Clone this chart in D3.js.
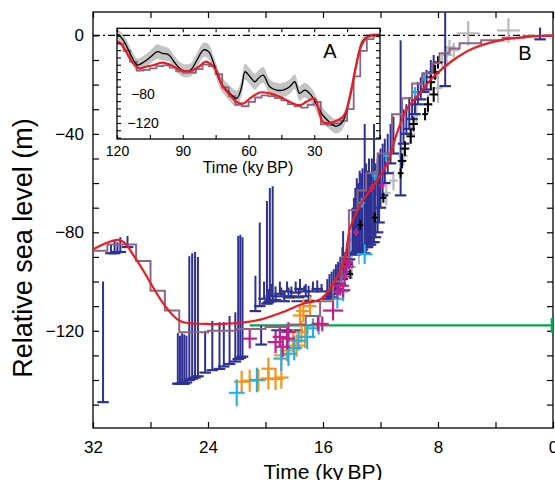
<!DOCTYPE html>
<html><head><meta charset="utf-8">
<script src="https://cdn.jsdelivr.net/npm/d3@7"></script>
<style>
body{margin:0;background:#fff}
svg{display:block}
text{font-family:"Liberation Sans",Arial,Helvetica,sans-serif;fill:#000}
</style>
</head><body>
<svg id="c" width="555" height="480"></svg>
<script>
// ---------------- DATA (main panel B) ----------------
const xTicks = [32, 28, 24, 20, 16, 12, 8, 4, 0];
const xLabels = [32, 24, 16, 8, 0];
const yLabels = [0, -40, -80, -120];

// red model curve
const redT = [32, 30.1, 29, 27, 25.95, 24.1, 22.3, 20.6, 18.8, 17.4, 16.1, 14.6, 14.1, 13.3, 12.2, 11.5, 10.85, 10.2, 9.25, 8.35, 6.96, 5.57, 3.69, 1.39, 0];
const redV = [-87, -83.2, -91, -109.8, -116, -117.2, -117, -115.8, -112.4, -109, -106.8, -92.9, -78, -67.9, -58.6, -51.7, -39.6, -30.3, -23.4, -17, -10.1, -5.3, -2, -0.4, 0];

// mauve step curve
const stairT = [32, 31, 29, 28, 27, 26, 24, 22, 20, 18.5, 17.2, 16.2, 15.3, 14.7, 14.2, 13.6, 13.0, 12.2, 11.2, 10.5, 9.8, 9.1, 8.4, 7.9, 7.2, 6.5, 5.0, 3.5, 2.0, 0];
const stairV = [-87.5, -85, -91.7, -103.7, -111.8, -120.6, -120, -119.3, -118.5, -117.5, -114, -108, -100, -90, -71, -63, -56, -48, -32, -25.5, -19.5, -15.5, -11.3, -7.3, -5.3, -3.2, -2, -1, -0.3, 0];

// navy limiting data: time, lower end (with foot), upper end
const navyT  = [31.3, 30.75, 30.5, 30.3, 30.1, 29.6,
  26.1, 25.95, 25.8, 25.65, 25.5, 25.3, 25.1, 24.9, 24.7, 24.2, 23.7, 23.2, 22.9, 22.5, 22.1, 21.9, 21.75, 21.6,
  20.3, 20.7, 20.4, 19.9, 19.7, 19.5, 20.1, 19.8, 19.6, 19.3, 19.0, 18.9, 18.7, 18.5, 18.4, 18.2, 17.9, 17.7, 17.6, 17.3, 17.2, 17.0, 16.7, 16.4, 16.1,
  15.7, 15.55, 15.4, 15.25, 15.1, 14.95, 14.8, 14.65, 14.6, 14.45, 14.3, 14.15,
  13.95, 13.85, 13.75, 13.65, 13.55, 13.45, 13.35, 13.25, 13.1, 13.0, 12.9, 12.8, 12.7, 12.6, 12.45, 12.35, 12.2, 12.1, 12.0, 11.85, 11.7, 11.5, 11.3, 11.1,
  10.6, 10.4, 10.2, 10.0, 9.8, 9.6, 9.4, 9.2, 9.0, 8.8, 8.5, 8.3, 7.5, 0.9];
const navyLo = [-149, -88.5, -88.5, -88, -88, -86,
  -141.5, -141.5, -141.5, -141.5, -141, -140, -139.5, -139, -138.5, -137, -136, -135.5, -134.5, -133.5, -132.5, -131.5, -131, -130.5,
  -125.6, -112, -110, -109, -108, -108, -107, -108.5, -106, -107.5, -105, -106, -108, -104, -106.5, -106, -104.5, -106.4, -103, -104, -106, -107.8, -104, -103, -104,
  -107, -106, -106.5, -105, -104, -103, -101, -99, -97, -96, -93, -91,
  -89, -88.5, -89, -88, -88, -87.5, -88, -87, -88.5, -86, -86, -85, -85, -84, -84, -82, -80, -76, -70, -65, -60, -56, -52, -48,
  -65, -44, -40, -38, -34, -32, -28, -26, -23, -22, -17, -15, -20.6, -1.6];
const navyHi = [-100, -85, -83.5, -84, -82, -81.5,
  -121, -122, -121, -121.5, -122, -89.7, -88.5, -88, -90, -120, -116, -116.5, -116.5, -114, -112.5, -81.5, -81, -82,
  -118, -97.6, -76, -67.3, -62, -61.3, -100, -103, -101, -102, -100, -102.4, -104, -100, -102.4, -102, -100, -103, -99, -101.7, -101, -101.7, -100, -99.5, -101,
  -99, -97, -96, -95, -93, -92, -90, -86, -79.5, -88, -84, -80,
  -70, -66, -62, -58, -60, -55, -56, -54, -36, -52, -55, -50, -56, -50, -36, -52, -50, -48, -46, -44, -42, -40, -36, -33,
  -2, -30, -28, -25, -24, -22, -19, -17, -15, -14, -10, -8, 12, 3.2];

// crosses: [time, level, time error, level error]
const navyX = [[18.5, -119.8, 1.1, 0], [17.2, -108, 1.0, 0]];
const orangeX = [[21.66, -140.7, 0.55, 4.5], [21.1, -140.3, 0.55, 4.5], [20.5, -140.0, 0.55, 4.5], [19.8, -139.4, 0.55, 4.5], [19.3, -139.6, 0.55, 4.5], [18.9, -139.0, 0.5, 4.5], [19.8, -135.4, 0.5, 4.5], [18.9, -130, 0.5, 4.5], [18.5, -128, 0.5, 4.5], [18.07, -124, 0.5, 4.5], [17.83, -126, 0.5, 4.5], [17.5, -120.5, 0.5, 4.5], [17.25, -122.5, 0.5, 4.5], [17.6, -113.8, 0.5, 4.5], [17.37, -112.0, 0.5, 4.5], [16.9, -110, 0.45, 4]];
const cyanX = [[22.0, -145.2, 0.55, 5.5], [20.6, -140, 0.55, 5], [18.9, -131.3, 0.55, 5], [18.4, -129.3, 0.55, 5], [18.0, -127, 0.55, 5], [17.7, -124, 0.5, 4], [17.1, -122.5, 0.55, 5], [16.7, -119, 0.5, 4], [16.3, -117.5, 0.4, 4], [13.1, -88.9, 0.55, 4], [14.6, -104, 0.4, 4], [15.0, -107, 0.4, 4], [13.3, -68, 0.2, 2], [12.4, -57, 0.2, 2], [11.6, -49, 0.2, 2], [9.6, -23, 0.2, 2], [9.0, -17, 0.15, 1.5]];
const magentaX = [[21.1, -123.2, 0.5, 4], [19.3, -124.6, 0.55, 4.5], [19.0, -122.5, 0.5, 4], [18.5, -123.2, 0.55, 4.5], [18.4, -120.5, 0.5, 4], [18.8, -126.5, 0.5, 4], [16.35, -117.2, 0.45, 3], [16.05, -117.2, 0.45, 3], [15.3, -111.8, 0.7, 4], [14.8, -101.7, 0.6, 4], [14.6, -103.5, 0.5, 3], [14.35, -94, 0.5, 3], [14.5, -98, 0.4, 3], [15.0, -104, 0.4, 3], [14.2, -92, 0.3, 3], [12.6, -62, 0.2, 1.5], [11.9, -61, 0.2, 1.5], [13.7, -80, 0.2, 1.5]];
const greyX = [[5.9, 0.8, 0.8, 5], [3.1, 2.0, 0.8, 5], [7.2, -4.8, 0.4, 3], [7.7, -10.9, 0.4, 3], [8.0, -21.4, 0.3, 6], [8.7, -28, 0.3, 4], [10.4, -49, 0.3, 4], [11.1, -59, 0.3, 4], [11.6, -64, 0.3, 5], [12.1, -70, 0.3, 5], [12.6, -76, 0.3, 5], [13.0, -82, 0.3, 6], [13.5, -87, 0.3, 6], [14.0, -94, 0.3, 5], [13.8, -83, 0.3, 6], [13.0, -67, 0.3, 5], [12.3, -60, 0.3, 5], [9.5, -32, 0.3, 4], [9.9, -40, 0.3, 4], [6.9, -6, 0.4, 3], [7.4, -8, 0.4, 3]];
const blackX = [[8.0, -11, 0.3, 2.5], [8.2, -15, 0.3, 3], [8.5, -19, 0.3, 3], [8.3, -24, 0.3, 3], [8.7, -28, 0.3, 3], [8.9, -32, 0.2, 2.5], [9.7, -36, 0.3, 3], [9.9, -41, 0.3, 3], [10.3, -46, 0.3, 3], [10.5, -51, 0.3, 3], [10.6, -56, 0.2, 2], [13.4, -77, 0.2, 2], [11.8, -66, 0.2, 2], [12.4, -74, 0.2, 2], [14.1, -97, 0.2, 2]];

// green limit
const greenT = [21.1, 0];
const greenV = -117.8;
const greenErr = 3;

// ---------------- DATA (inset A) ----------------
const insetXTicks = [120, 105, 90, 75, 60, 45, 30, 15, 0];
const insetXLabels = [120, 90, 60, 30];
const insetYLabels = [-80, -120];
const blkT = [120, 119.4, 116.7, 113.7, 110.7, 107.6, 104.6, 101.6, 99.3, 96.3, 94.0, 90.3, 86.5, 83.5, 80.5, 78.2, 75.9, 72.9, 69.9, 65.4, 63.1, 61.6, 59.3, 57.1, 55.6, 53.3, 50.3, 47.2, 44.2, 41.2, 38.9, 36.7, 34.4, 31.4, 28.4, 26.1, 23.1, 20.1, 17.1, 14.0, 11.0, 8.0, 5.0, 0.5, 0];
const blkV = [1, 1, -8.3, -26.6, -40.4, -35.9, -29, -22, -24.3, -26.6, -35.9, -47.3, -47.3, -33.5, -19.7, -22, -38, -63.4, -74.9, -86.3, -70.3, -49.7, -56.6, -63.4, -58.8, -54.2, -70.3, -74.9, -74.9, -70.3, -63.4, -79.4, -74.9, -81.8, -97.9, -109.4, -118.6, -124.6, -118.6, -88.7, -42.8, -8.3, -0.4, 1, 1];
const blkErr = [6, 7, 8, 9, 9, 9, 9, 10, 10, 9, 9, 9, 9, 10, 10, 10, 10, 10, 10, 11, 11, 11, 11, 11, 11, 11, 10, 10, 10, 10, 10, 10, 10, 10, 10, 10, 10, 10, 10, 9, 8, 6, 3, 2, 2];
const redAT = [120, 119.4, 116.7, 113.7, 109.9, 106.9, 103.1, 99.3, 95.5, 91.0, 86.5, 82.7, 79.7, 76.7, 74.4, 72.1, 69.1, 65.4, 62.4, 59.3, 54.8, 50.3, 45.7, 41.2, 36.7, 33.6, 29.9, 26.1, 23.1, 19.3, 16.3, 13.3, 11.0, 8.7, 5.8, 0.5, 0];
const redAV = [-8, -8.3, -17.4, -33.5, -45, -42.8, -40.4, -37.2, -40.4, -47.3, -48.7, -42.8, -35.9, -40.4, -49.7, -68, -79.4, -91, -93.2, -86.3, -78.1, -79.4, -84.1, -91, -95.6, -91, -86.3, -118.6, -120, -116.3, -109.4, -77.2, -42.8, -15.2, -2.2, 1, 1];
const stairAT = [120, 117, 114, 111, 108, 105, 102, 99, 96, 93, 90, 87, 84, 81, 78, 75, 72, 69, 66, 63, 60, 57, 54, 51, 48, 45, 42, 39, 36, 33, 30, 27, 24, 21, 18, 15, 12, 9, 6, 3, 0];
const stairAV = [-11, -21, -36, -48, -47, -45, -42, -41, -44, -49, -51, -51, -46, -40, -42, -53, -71, -83, -95, -97, -91, -85, -82, -83, -86, -89, -94, -97, -99, -95, -91, -122, -123, -121, -117, -101, -56, -21, -5, -1, 0];

// ---------------- DRAWING ----------------
const svg = d3.select("#c");
const X0 = 93, X1 = 553, Y0 = 12, Y1 = 428;
const x = d3.scaleLinear().domain([32, 0]).range([X0, X1]);
const y = d3.scaleLinear().domain([-159.5, 9.5]).range([Y1, Y0]);

const navy = "#2e3192", red = "#ed1c24", mauve = "#8d6582";

// axes (inward ticks)
const fmt = d => d < 0 ? "\u2212" + Math.abs(d) : String(d);
const gx = svg.append("g").attr("transform", `translate(0,${Y1})`)
  .call(d3.axisBottom(x).tickValues(xTicks).tickSize(-6).tickPadding(13)
    .tickFormat(d => xLabels.includes(d) ? fmt(d) : ""));
const gxt = svg.append("g").attr("transform", `translate(0,${Y0})`)
  .call(d3.axisTop(x).tickValues(xTicks).tickSize(-6).tickFormat(""));
const yTicks = d3.range(-150, 10, 10);
const gy = svg.append("g").attr("transform", `translate(${X0},0)`)
  .call(d3.axisLeft(y).tickValues(yTicks).tickSize(-6).tickPadding(9)
    .tickFormat(d => yLabels.includes(d) ? fmt(d) : ""));
const gyr = svg.append("g").attr("transform", `translate(${X1},0)`)
  .call(d3.axisRight(y).tickValues(yTicks).tickSize(-6).tickFormat(""));
[gx, gxt, gy, gyr].forEach(g => {
  g.select(".domain").remove();
  g.selectAll("line").attr("stroke", "#000").attr("stroke-width", 1.2);
  g.selectAll("text").style("font-size", "17px").attr("fill", "#000");
});
svg.append("rect").attr("x", X0).attr("y", Y0).attr("width", X1 - X0).attr("height", Y1 - Y0)
  .attr("fill", "none").attr("stroke", "#000").attr("stroke-width", 1.3);

svg.append("text").attr("x", (X0 + X1) / 2).attr("y", 479).attr("text-anchor", "middle")
  .style("font-size", "21px").text("Time (ky\u2009BP)");
svg.append("text").attr("transform", "translate(31.5,248) rotate(-90)").attr("text-anchor", "middle")
  .style("font-size", "27px").text("Relative sea level (m)");

// clip for main plot
svg.append("clipPath").attr("id", "clipM").append("rect")
  .attr("x", X0).attr("y", Y0).attr("width", X1 - X0).attr("height", Y1 - Y0);

// ---------------- inset A ----------------
const IX0 = 117, IX1 = 380, IY0 = 28.3, IY1 = 139;
const xi = d3.scaleLinear().domain([120, 0]).range([IX0, IX1]);
const yi = d3.scaleLinear().domain([-142, 10]).range([IY1, IY0]);
const ins = svg.append("g");
ins.append("rect").attr("x", IX0).attr("y", IY0).attr("width", IX1 - IX0).attr("height", IY1 - IY0)
  .attr("fill", "#fff");
ins.append("clipPath").attr("id", "clipI").append("rect")
  .attr("x", IX0).attr("y", IY0).attr("width", IX1 - IX0).attr("height", IY1 - IY0);
const ip = ins.append("g").attr("clip-path", "url(#clipI)");
const bandIdx = d3.range(blkT.length);
ip.append("path").datum(bandIdx)
  .attr("d", d3.area().x(i => xi(blkT[i])).y0(i => yi(blkV[i] - blkErr[i])).y1(i => yi(blkV[i] + blkErr[i])).curve(d3.curveCatmullRom))
  .attr("fill", "#c4c4c4");
ip.append("path").datum(d3.range(stairAT.length))
  .attr("d", d3.line().x(i => xi(stairAT[i])).y(i => yi(stairAV[i])).curve(d3.curveStepAfter))
  .attr("fill", "none").attr("stroke", mauve).attr("stroke-width", 1.8);
ip.append("path").datum(bandIdx)
  .attr("d", d3.line().x(i => xi(blkT[i])).y(i => yi(blkV[i])).curve(d3.curveCatmullRom))
  .attr("fill", "none").attr("stroke", "#000").attr("stroke-width", 1.3);
ip.append("path").datum(d3.range(redAT.length))
  .attr("d", d3.line().x(i => xi(redAT[i])).y(i => yi(redAV[i])).curve(d3.curveCatmullRom))
  .attr("fill", "none").attr("stroke", red).attr("stroke-width", 2.2);

const gix = ins.append("g").attr("transform", `translate(0,${IY1})`)
  .call(d3.axisBottom(xi).tickValues(insetXTicks).tickSize(-4).tickPadding(7)
    .tickFormat(d => insetXLabels.includes(d) ? d : ""));
const gixt = ins.append("g").attr("transform", `translate(0,${IY0})`)
  .call(d3.axisTop(xi).tickValues(insetXTicks).tickSize(-4).tickFormat(""));
const iyTicks = d3.range(-140, 10, 10);
const giy = ins.append("g").attr("transform", `translate(${IX0},0)`)
  .call(d3.axisLeft(yi).tickValues(iyTicks).tickSize(-4).tickFormat(""));
const giyr = ins.append("g").attr("transform", `translate(${IX1},0)`)
  .call(d3.axisRight(yi).tickValues(iyTicks).tickSize(-4).tickFormat(""));
[gix, gixt, giy, giyr].forEach(g => {
  g.select(".domain").remove();
  g.selectAll("line").attr("stroke", "#000").attr("stroke-width", 1.1);
  g.selectAll("text").style("font-size", "14px").attr("fill", "#000");
});
ins.append("rect").attr("x", IX0).attr("y", IY0).attr("width", IX1 - IX0).attr("height", IY1 - IY0)
  .attr("fill", "none").attr("stroke", "#000").attr("stroke-width", 1.3);
ins.selectAll("text.iyl").data(insetYLabels).enter().append("text")
  .attr("x", 143).attr("y", d => yi(d)).attr("dy", "0.36em").attr("text-anchor", "middle")
  .style("font-size", "14px").text(fmt);
ins.append("text").attr("x", 248).attr("y", 173).attr("text-anchor", "middle")
  .style("font-size", "16px").text("Time (ky\u2009BP)");
ins.append("text").attr("x", 330).attr("y", 58).attr("text-anchor", "middle")
  .style("font-size", "20px").text("A");

// ---------------- main marks ----------------
const mp = svg.append("g").attr("clip-path", "url(#clipM)");

// zero line dash-dot
mp.append("line").attr("x1", X0).attr("x2", X1).attr("y1", y(0)).attr("y2", y(0))
  .attr("stroke", "#000").attr("stroke-width", 1.1).attr("stroke-dasharray", "7,3,2,3");

// green line
mp.append("line").attr("x1", x(greenT[0])).attr("x2", x(greenT[1])).attr("y1", y(greenV)).attr("y2", y(greenV))
  .attr("stroke", "#00a651").attr("stroke-width", 2.2);
mp.append("line").attr("x1", x(greenT[1]) - 1).attr("x2", x(greenT[1]) - 1)
  .attr("y1", y(greenV - greenErr)).attr("y2", y(greenV + greenErr))
  .attr("stroke", "#00a651").attr("stroke-width", 2.5);

// crosses
function crosses(data, color, w) {
  const g = mp.append("g").attr("stroke", color).attr("stroke-width", w);
  data.forEach(d => {
    g.append("line").attr("x1", x(d[0] + d[2])).attr("x2", x(d[0] - d[2])).attr("y1", y(d[1])).attr("y2", y(d[1]));
    if (d[3] > 0) g.append("line").attr("x1", x(d[0])).attr("x2", x(d[0])).attr("y1", y(d[1] - d[3])).attr("y2", y(d[1] + d[3]));
  });
}
crosses(greyX, "#b9b9b9", 2.2);

// navy bars
const nb = mp.append("g").attr("stroke", navy);
navyT.forEach((t, i) => {
  nb.append("line").attr("x1", x(t)).attr("x2", x(t)).attr("y1", y(navyLo[i])).attr("y2", y(navyHi[i])).attr("stroke-width", 2);
  nb.append("line").attr("x1", x(t + 0.4)).attr("x2", x(t - 0.4)).attr("y1", y(navyLo[i])).attr("y2", y(navyLo[i])).attr("stroke-width", 2.2);
});
crosses(navyX, navy, 2);

crosses(blackX, "#000", 2);
crosses(orangeX, "#f7941d", 2.2);
crosses(cyanX, "#1cb1ec", 2.1);
crosses(magentaX, "#c1208b", 2.2);

// stair
mp.append("path").datum(d3.range(stairT.length))
  .attr("d", d3.line().x(i => x(stairT[i])).y(i => y(stairV[i])).curve(d3.curveStepAfter))
  .attr("fill", "none").attr("stroke", mauve).attr("stroke-width", 2);

// red
mp.append("path").datum(d3.range(redT.length))
  .attr("d", d3.line().x(i => x(redT[i])).y(i => y(redV[i])).curve(d3.curveCatmullRom))
  .attr("fill", "none").attr("stroke", red).attr("stroke-width", 2.2);

svg.append("text").attr("x", 525).attr("y", 60).attr("text-anchor", "middle")
  .style("font-size", "20px").text("B");
</script>
</body></html>
